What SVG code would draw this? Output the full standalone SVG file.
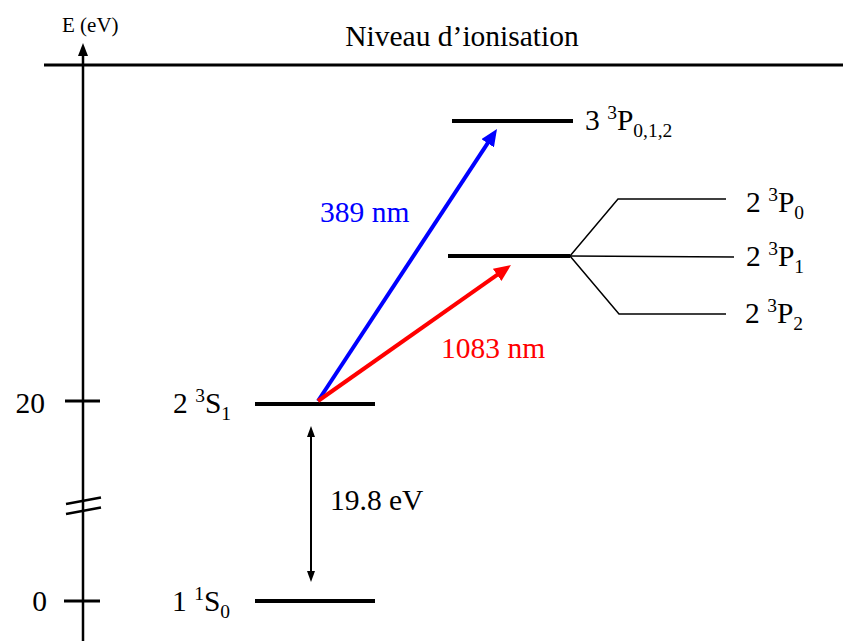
<svg xmlns="http://www.w3.org/2000/svg" width="843" height="641" viewBox="0 0 843 641">
<style>
text{font-family:"Liberation Serif","Times New Roman",serif;fill:#000}
.lbl{font-size:29.5px}
.s{font-size:19.5px}
.lvl{stroke:#000;stroke-width:4;fill:none}
.thin{stroke:#000;stroke-width:1.5;fill:none}
</style>
<defs>
<marker id="hb" viewBox="0 0 17 15" refX="7" refY="7.5" markerWidth="17" markerHeight="15" markerUnits="userSpaceOnUse" orient="auto"><path d="M0,0 L17,7.5 L0,15 z" fill="#0000ff"/></marker>
<marker id="hr" viewBox="0 0 17 15" refX="7" refY="7.5" markerWidth="17" markerHeight="15" markerUnits="userSpaceOnUse" orient="auto"><path d="M0,0 L17,7.5 L0,15 z" fill="#ff0000"/></marker>
</defs>
<rect width="843" height="641" fill="#fff"/>
<g id="axis">
<line x1="83" y1="55" x2="83" y2="641" stroke="#000" stroke-width="2.5"/>
<path d="M83,43 L78,56 L88,56 z" fill="#000"/>
<line x1="65" y1="401" x2="100" y2="401" stroke="#000" stroke-width="3"/>
<line x1="64" y1="601" x2="100" y2="601" stroke="#000" stroke-width="3"/>
<line x1="66" y1="504" x2="101" y2="497.5" stroke="#000" stroke-width="2.5"/>
<line x1="66" y1="514" x2="101" y2="507.5" stroke="#000" stroke-width="2.5"/>
<text x="62" y="32" style="font-size:21px">E (eV)</text>
<text x="45" y="413" class="lbl" text-anchor="end">20</text>
<text x="47" y="611" class="lbl" text-anchor="end">0</text>
</g>
<g id="ionisation">
<line x1="44" y1="65" x2="843" y2="65" stroke="#000" stroke-width="3"/>
<text x="462" y="46" class="lbl" text-anchor="middle">Niveau d’ionisation</text>
</g>
<g id="level-1S0">
<line class="lvl" x1="255" y1="601" x2="375" y2="601"/>
<text x="172" y="611" class="lbl">1 <tspan class="s" dy="-11">1</tspan><tspan dy="11">S</tspan><tspan class="s" dy="7">0</tspan></text>
</g>
<g id="level-3S1">
<line class="lvl" x1="255" y1="404" x2="375" y2="404"/>
<text x="173" y="413" class="lbl">2 <tspan class="s" dy="-11">3</tspan><tspan dy="11">S</tspan><tspan class="s" dy="7">1</tspan></text>
</g>
<g id="level-33P">
<line class="lvl" x1="452" y1="121" x2="573" y2="121"/>
<text x="585" y="130" class="lbl">3 <tspan class="s" dy="-11">3</tspan><tspan dy="11">P</tspan><tspan class="s" dy="7">0,1,2</tspan></text>
</g>
<g id="level-23P">
<line class="lvl" x1="448" y1="256" x2="570" y2="256"/>
<polyline class="thin" points="570,256 618,199 726,199"/>
<line class="thin" x1="570" y1="256" x2="734" y2="257"/>
<polyline class="thin" points="570,256 619,314 726,314"/>
<text x="746" y="212" class="lbl">2 <tspan class="s" dy="-11">3</tspan><tspan dy="11">P</tspan><tspan class="s" dy="7">0</tspan></text>
<text x="746" y="266" class="lbl">2 <tspan class="s" dy="-11">3</tspan><tspan dy="11">P</tspan><tspan class="s" dy="7">1</tspan></text>
<text x="745" y="323" class="lbl">2 <tspan class="s" dy="-11">3</tspan><tspan dy="11">P</tspan><tspan class="s" dy="7">2</tspan></text>
</g>
<g id="connectors">
<line x1="318" y1="401" x2="491.5" y2="137.4" stroke="#0000ff" stroke-width="4" marker-end="url(#hb)"/>
<line x1="318" y1="401" x2="502.8" y2="270.8" stroke="#ff0000" stroke-width="4" marker-end="url(#hr)"/>
<line x1="311" y1="436" x2="311" y2="572" stroke="#000" stroke-width="2"/>
<path d="M311,426 L307,437 L315,437 z" fill="#000"/>
<path d="M311,582 L307,571 L315,571 z" fill="#000"/>
<text x="320" y="222" class="lbl" style="fill:#0000ff">389 nm</text>
<text x="441" y="358" class="lbl" style="fill:#ff0000">1083 nm</text>
<text x="330" y="510" class="lbl">19.8 eV</text>
</g>
</svg>
